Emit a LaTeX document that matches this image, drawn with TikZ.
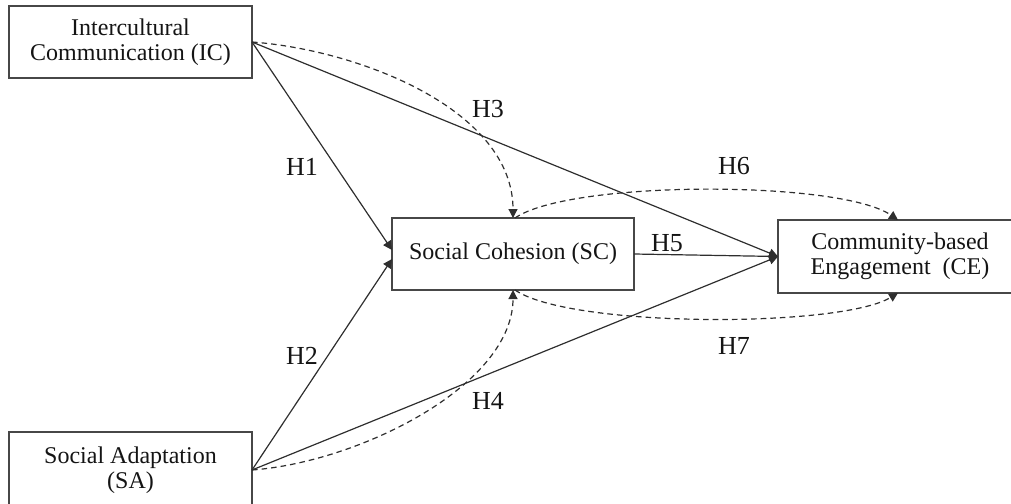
\documentclass[tikz,border=0pt]{standalone}
\usepackage{fontspec}
\setmainfont{Liberation Serif}
\usetikzlibrary{arrows.meta}
\begin{document}
\begin{tikzpicture}[x=0.5pt,y=-0.5pt,
  boxline/.style={draw=black!72, line width=0.75pt},
  box/.style={boxline, outer sep=0pt, inner sep=2pt, align=center,
    font=\fontsize{12}{12.5}\selectfont, text=black!92},
  lbl/.style={font=\fontsize{13}{13}\selectfont, inner sep=0pt, text=black!92},
  conn/.style={draw=black!82, line width=0.6pt, -{Triangle[length=4.5pt,width=4.5pt]}},
  dconn/.style={conn, dash pattern=on 2.8pt off 2pt}]
\useasboundingbox (0,0) rectangle (1011,503);
\node[box, minimum width=121.5pt, minimum height=36pt] (ic) at (130.5,42) {Intercultural\\Communication (IC)};
\node[box, minimum width=121pt, minimum height=36pt] (sc) at (513,254) {Social Cohesion (SC)};
\node[box, draw=none, minimum width=122pt, minimum height=36.5pt] (ce) at (900,256.5) {Community-based\\Engagement\ \ (CE)};
\draw[boxline] ([xshift=20pt]ce.north east) -- (ce.north west) -- (ce.south west) -- ([xshift=20pt]ce.south east);
\node[box, minimum width=121.5pt, minimum height=38pt] (sa) at (130.5,470) {Social Adaptation\\(SA)};
% straight paths
\draw[conn] (ic.east) -- ([yshift=2pt]sc.west);
\draw[conn] (sa.east) -- ([yshift=-2.5pt]sc.west);
\draw[conn] (ic.east) -- (ce.west);
\draw[conn] (sa.east) -- (ce.west);
\draw[conn] (sc.east) -- (ce.west);
% dashed curves
\draw[dconn] (ic.east) .. controls (360,50) and (513,110) .. (sc.north);
\draw[dconn] (sa.east) .. controls (360,462) and (513,385) .. (sc.south);
\draw[dconn] ([xshift=1pt]sc.north) .. controls (570,180) and (840,180) .. ([xshift=-1pt]ce.north);
\draw[dconn] ([xshift=1pt]sc.south) .. controls (570,328) and (840,328) .. ([xshift=-1pt]ce.south);
% labels
\node[lbl] (h1) at (302,167) {H1};
\node[lbl] (h2) at (302,356) {H2};
\node[lbl] (h3) at (488,109) {H3};
\node[lbl] (h4) at (488,401) {H4};
\node[lbl] (h5) at (667,243) {H5};
\node[lbl] (h6) at (734,166) {H6};
\node[lbl] (h7) at (734,346) {H7};
\end{tikzpicture}
\end{document}
